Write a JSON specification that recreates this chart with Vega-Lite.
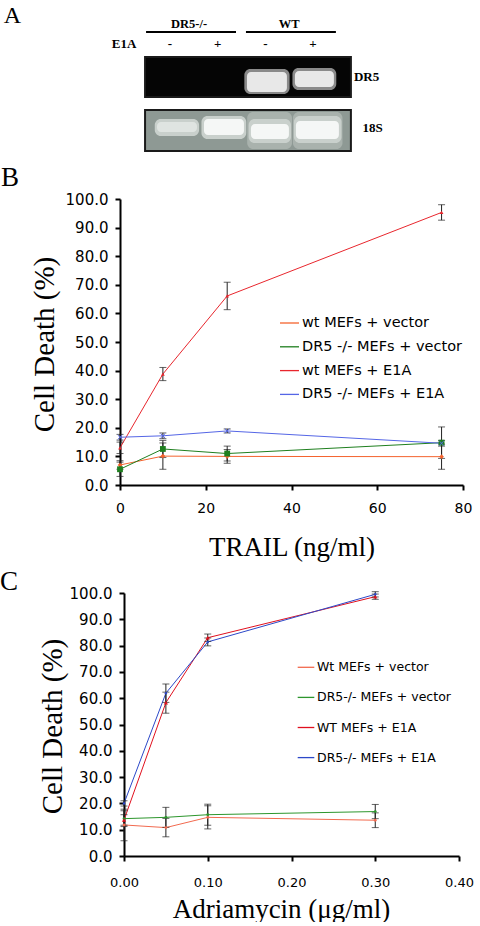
{
  "$schema": "https://vega.github.io/schema/vega-lite/v6.json",
  "autosize": {"type": "pad"},
  "padding": {"left": 0, "top": 0, "right": 0, "bottom": 0},
  "background": "white",
  "config": {
    "view": {"stroke": null},
    "axis": {"domainColor": "black", "domainWidth": 2, "tickColor": "black", "tickWidth": 2, "tickSize": 5, "labelFont": "DejaVu Sans", "labelColor": "black", "labelFlush": false, "labelOverlap": false, "titleFont": "Liberation Serif", "titleFontWeight": "normal", "titleColor": "black", "grid": false},
    "legend": {"padding": 0}
  },
  "bounds": "flush",
  "center": true,
  "spacing": 108,
  "resolve": {
    "scale": {"color": "independent", "fill": "independent", "x": "independent", "y": "independent"},
    "legend": {"color": "independent", "fill": "independent"}
  },
  "vconcat": [
    {
      "width": 343,
      "height": 91,
      "layer": [
        {
          "data": {"values": [
            {"part": "DR5 blot", "x0": 0.476, "x1": 4.797, "y0": 57, "y1": 97},
            {"part": "18S blot", "x0": 0.476, "x1": 4.797, "y0": 110, "y1": 151}
          ]},
          "mark": {"type": "rect", "stroke": "#1a1a1a", "strokeWidth": 2},
          "encoding": {
            "x": {"field": "x0", "type": "quantitative", "scale": {"domain": [-0.05, 7.15], "nice": false, "zero": false}, "axis": null},
            "x2": {"field": "x1"},
            "y": {"field": "y0", "type": "quantitative", "scale": {"domain": [0, 91], "reverse": true, "nice": false, "zero": false}, "axis": null},
            "y2": {"field": "y1"},
            "fill": {"field": "part", "type": "nominal", "scale": {"domain": ["DR5 blot", "18S blot", "DR5 halo", "DR5 band", "18S haze", "18S halo", "18S band", "18S faint band"], "range": ["#050505", "#8e9994", "#8a8a8a", "#e8e8e8", "#a9b2ad", "#c9d0cc", "#f5f7f6", "#dfe4e1"]}, "legend": null}
          }
        },
        {
          "data": {"values": [
            {"part": "18S haze", "x0": 2.62, "x1": 3.56, "y0": 112, "y1": 149},
            {"part": "18S haze", "x0": 3.58, "x1": 4.62, "y0": 112, "y1": 149},
            {"part": "DR5 halo", "x0": 2.56, "x1": 3.51, "y0": 69, "y1": 94},
            {"part": "DR5 halo", "x0": 3.57, "x1": 4.49, "y0": 68, "y1": 90},
            {"part": "18S halo", "x0": 0.68, "x1": 1.61, "y0": 119, "y1": 136},
            {"part": "18S halo", "x0": 1.66, "x1": 2.6, "y0": 116, "y1": 139},
            {"part": "18S halo", "x0": 2.65, "x1": 3.54, "y0": 119, "y1": 143},
            {"part": "18S halo", "x0": 3.6, "x1": 4.6, "y0": 116, "y1": 143}
          ]},
          "mark": {"type": "rect", "cornerRadius": 6},
          "encoding": {
            "x": {"field": "x0", "type": "quantitative"},
            "x2": {"field": "x1"},
            "y": {"field": "y0", "type": "quantitative"},
            "y2": {"field": "y1"},
            "fill": {"field": "part", "type": "nominal", "legend": null}
          }
        },
        {
          "data": {"values": [
            {"part": "DR5 band", "x0": 2.615, "x1": 3.454, "y0": 72, "y1": 92},
            {"part": "DR5 band", "x0": 3.622, "x1": 4.44, "y0": 71, "y1": 87},
            {"part": "18S faint band", "x0": 0.727, "x1": 1.566, "y0": 122, "y1": 132},
            {"part": "18S band", "x0": 1.713, "x1": 2.552, "y0": 119, "y1": 135},
            {"part": "18S band", "x0": 2.699, "x1": 3.496, "y0": 124, "y1": 139},
            {"part": "18S band", "x0": 3.643, "x1": 4.545, "y0": 121, "y1": 139}
          ]},
          "mark": {"type": "rect", "cornerRadius": 4},
          "encoding": {
            "x": {"field": "x0", "type": "quantitative"},
            "x2": {"field": "x1"},
            "y": {"field": "y0", "type": "quantitative"},
            "y2": {"field": "y1"},
            "fill": {"field": "part", "type": "nominal", "legend": null}
          }
        },
        {
          "data": {"values": [
            {"group": "DR5-/-", "x0": 0.497, "x1": 2.385, "y": 32},
            {"group": "WT", "x0": 2.594, "x1": 4.482, "y": 32}
          ]},
          "mark": {"type": "rule", "strokeWidth": 2, "color": "black"},
          "encoding": {
            "x": {"field": "x0", "type": "quantitative"},
            "x2": {"field": "x1"},
            "y": {"field": "y", "type": "quantitative"}
          }
        },
        {
          "data": {"values": [
            {"label": "DR5-/-", "lane": 1.4, "y": 24},
            {"label": "WT", "lane": 3.5, "y": 24}
          ]},
          "mark": {"type": "text", "font": "Liberation Serif", "fontWeight": "bold", "fontSize": 12.5, "baseline": "middle", "color": "black"},
          "encoding": {
            "x": {"field": "lane", "type": "quantitative"},
            "y": {"field": "y", "type": "quantitative"},
            "text": {"field": "label"}
          }
        },
        {
          "data": {"values": [
            {"label": "E1A", "lane": 0.035, "y": 44},
            {"label": "-", "lane": 1, "y": 44},
            {"label": "+", "lane": 2, "y": 44},
            {"label": "-", "lane": 3, "y": 44},
            {"label": "+", "lane": 4, "y": 44}
          ]},
          "mark": {"type": "text", "font": "Liberation Serif", "fontWeight": "bold", "fontSize": 13, "baseline": "middle", "color": "black"},
          "encoding": {
            "x": {"field": "lane", "type": "quantitative"},
            "y": {"field": "y", "type": "quantitative"},
            "text": {"field": "label"}
          }
        },
        {
          "data": {"values": [
            {"label": "DR5", "lane": 4.86, "y": 77},
            {"label": "18S", "lane": 5.04, "y": 128}
          ]},
          "mark": {"type": "text", "font": "Liberation Serif", "fontWeight": "bold", "fontSize": 13, "baseline": "middle", "align": "left", "color": "black"},
          "encoding": {
            "x": {"field": "lane", "type": "quantitative"},
            "y": {"field": "y", "type": "quantitative"},
            "text": {"field": "label"}
          }
        },
        {
          "data": {"values": [
            {"label": "A", "lane": -2.31, "y": 16}
          ]},
          "mark": {"type": "text", "font": "Liberation Serif", "fontSize": 24, "baseline": "middle", "color": "black"},
          "encoding": {
            "x": {"field": "lane", "type": "quantitative"},
            "y": {"field": "y", "type": "quantitative"},
            "text": {"field": "label"}
          }
        }
      ]
    },
    {
      "width": 343,
      "height": 286,
      "title": {"text": "B", "anchor": "start", "frame": "group", "dx": -119, "offset": 0, "font": "Liberation Serif", "fontSize": 27, "fontWeight": "normal", "color": "black"},
      "data": {"values": [
        {"series": "wt MEFs + vector", "trail": 0, "death": 7.0, "err": 1.5},
        {"series": "wt MEFs + vector", "trail": 10, "death": 10.1, "err": 4.6},
        {"series": "wt MEFs + vector", "trail": 25, "death": 10.0, "err": 2.4},
        {"series": "wt MEFs + vector", "trail": 75, "death": 9.9, "err": 4.4},
        {"series": "DR5 -/- MEFs + vector", "trail": 0, "death": 5.5, "err": 2.5},
        {"series": "DR5 -/- MEFs + vector", "trail": 10, "death": 12.6, "err": 3.0},
        {"series": "DR5 -/- MEFs + vector", "trail": 25, "death": 11.0, "err": 2.6},
        {"series": "DR5 -/- MEFs + vector", "trail": 75, "death": 14.8, "err": 5.5},
        {"series": "wt MEFs + E1A", "trail": 0, "death": 13.0, "err": 2.0},
        {"series": "wt MEFs + E1A", "trail": 10, "death": 38.8, "err": 2.3},
        {"series": "wt MEFs + E1A", "trail": 25, "death": 66.1, "err": 4.8},
        {"series": "wt MEFs + E1A", "trail": 75, "death": 95.3, "err": 2.7},
        {"series": "DR5 -/- MEFs + E1A", "trail": 0, "death": 16.7, "err": 1.0},
        {"series": "DR5 -/- MEFs + E1A", "trail": 10, "death": 17.2, "err": 1.0},
        {"series": "DR5 -/- MEFs + E1A", "trail": 25, "death": 18.9, "err": 0.7},
        {"series": "DR5 -/- MEFs + E1A", "trail": 75, "death": 14.6, "err": 1.0}
      ]},
      "encoding": {
        "x": {"field": "trail", "type": "quantitative", "scale": {"domain": [0, 80], "nice": false}, "axis": {"values": [0, 20, 40, 60, 80], "format": "d", "labelFontSize": 14, "labelPadding": 11, "title": "TRAIL (ng/ml)", "titleFontSize": 27, "titleY": 70, "titleBaseline": "alphabetic"}},
        "y": {"field": "death", "type": "quantitative", "scale": {"domain": [0, 100], "nice": false}, "axis": {"values": [0, 10, 20, 30, 40, 50, 60, 70, 80, 90, 100], "format": ".1f", "labelFontSize": 15, "labelPadding": 7, "title": "Cell Death (%)", "titleFontSize": 29, "titleAngle": -90, "titleX": -67, "titleY": 145, "titleBaseline": "alphabetic", "titleAlign": "center"}}
      },
      "layer": [
        {
          "mark": {"type": "line", "strokeWidth": 1},
          "encoding": {
            "color": {
              "field": "series", "type": "nominal",
              "scale": {"domain": ["wt MEFs + vector", "DR5 -/- MEFs + vector", "wt MEFs + E1A", "DR5 -/- MEFs + E1A"], "range": ["#f4632e", "#1f7f1f", "#e8262d", "#5566e6"]},
              "legend": {
                "orient": "none", "legendX": 159, "legendY": 113.5, "title": null,
                "labelFont": "DejaVu Sans", "labelFontSize": 14.5, "labelColor": "black", "labelLimit": 300,
                "symbolType": "stroke", "symbolSize": 361, "symbolStrokeWidth": 1.3, "rowPadding": 6.8, "labelOffset": 2
              }
            }
          }
        },
        {
          "mark": {"type": "errorbar", "ticks": {"size": 7}, "color": "#222222", "thickness": 1},
          "encoding": {"yError": {"field": "err"}}
        },
        {
          "transform": [{"filter": "datum.series === 'wt MEFs + vector'"}],
          "mark": {"type": "point", "shape": "diamond", "filled": true, "size": 22, "color": "#f4632e", "opacity": 1}
        },
        {
          "transform": [{"filter": "datum.series === 'DR5 -/- MEFs + vector'"}],
          "mark": {"type": "point", "shape": "square", "filled": true, "size": 34, "color": "#1f7f1f", "opacity": 1}
        },
        {
          "transform": [{"filter": "datum.series === 'wt MEFs + E1A'"}],
          "mark": {"type": "point", "shape": "triangle-up", "filled": true, "size": 14, "color": "#e8262d", "opacity": 1}
        },
        {
          "transform": [{"filter": "datum.series === 'DR5 -/- MEFs + E1A'"}],
          "mark": {"type": "point", "shape": "M-1,-1L1,1M-1,1L1,-1", "filled": false, "size": 20, "color": "#5566e6", "strokeWidth": 1, "opacity": 1}
        }
      ]
    },
    {
      "width": 335,
      "height": 263,
      "title": {"text": "C", "anchor": "start", "frame": "group", "dx": -124, "offset": -10, "font": "Liberation Serif", "fontSize": 27, "fontWeight": "normal", "color": "black"},
      "data": {"values": [
        {"series": "Wt MEFs + vector", "dose": 0, "death": 11.8, "err": 6.0},
        {"series": "Wt MEFs + vector", "dose": 0.05, "death": 10.8, "err": 3.5},
        {"series": "Wt MEFs + vector", "dose": 0.1, "death": 14.7, "err": 4.4},
        {"series": "Wt MEFs + vector", "dose": 0.3, "death": 13.6, "err": 2.8},
        {"series": "DR5-/- MEFs + vector", "dose": 0, "death": 14.2, "err": 3.0},
        {"series": "DR5-/- MEFs + vector", "dose": 0.05, "death": 14.7, "err": 3.8},
        {"series": "DR5-/- MEFs + vector", "dose": 0.1, "death": 15.7, "err": 4.0},
        {"series": "DR5-/- MEFs + vector", "dose": 0.3, "death": 16.9, "err": 2.7},
        {"series": "WT MEFs + E1A", "dose": 0, "death": 13.7, "err": 2.0},
        {"series": "WT MEFs + E1A", "dose": 0.05, "death": 58.3, "err": 4.0},
        {"series": "WT MEFs + E1A", "dose": 0.1, "death": 83.0, "err": 1.4},
        {"series": "WT MEFs + E1A", "dose": 0.3, "death": 98.6, "err": 1.0},
        {"series": "DR5-/- MEFs + E1A", "dose": 0, "death": 20.0, "err": 1.0},
        {"series": "DR5-/- MEFs + E1A", "dose": 0.05, "death": 61.9, "err": 3.5},
        {"series": "DR5-/- MEFs + E1A", "dose": 0.1, "death": 81.4, "err": 1.5},
        {"series": "DR5-/- MEFs + E1A", "dose": 0.3, "death": 99.5, "err": 1.0}
      ]},
      "encoding": {
        "x": {"field": "dose", "type": "quantitative", "scale": {"domain": [0, 0.4], "nice": false}, "axis": {"values": [0, 0.1, 0.2, 0.3, 0.4], "format": ".2f", "labelFontSize": 13, "labelPadding": 15, "title": "Adriamycin (μg/ml)", "titleFontSize": 27, "titleX": 157, "titleY": 61, "titleAlign": "center", "titleBaseline": "alphabetic"}},
        "y": {"field": "death", "type": "quantitative", "scale": {"domain": [0, 100], "nice": false}, "axis": {"values": [0, 10, 20, 30, 40, 50, 60, 70, 80, 90, 100], "format": ".1f", "labelFontSize": 15, "labelPadding": 7, "title": "Cell Death (%)", "titleFontSize": 29, "titleAngle": -90, "titleX": -63, "titleY": 133, "titleBaseline": "alphabetic", "titleAlign": "center"}}
      },
      "layer": [
        {
          "mark": {"type": "line", "strokeWidth": 1},
          "encoding": {
            "color": {
              "field": "series", "type": "nominal",
              "scale": {"domain": ["Wt MEFs + vector", "DR5-/- MEFs + vector", "WT MEFs + E1A", "DR5-/- MEFs + E1A"], "range": ["#f26a4f", "#2d962d", "#e0101e", "#2c48c8"]},
              "legend": {
                "orient": "none", "legendX": 173, "legendY": 65.3, "title": null,
                "labelFont": "DejaVu Sans", "labelFontSize": 12.5, "labelColor": "black", "labelLimit": 300,
                "symbolType": "stroke", "symbolSize": 276, "symbolStrokeWidth": 1.3, "rowPadding": 14.1, "labelOffset": 2
              }
            }
          }
        },
        {
          "mark": {"type": "errorbar", "ticks": {"size": 7}, "color": "#222222", "thickness": 1},
          "encoding": {"yError": {"field": "err"}}
        },
        {
          "transform": [{"filter": "datum.series === 'Wt MEFs + vector'"}],
          "mark": {"type": "point", "shape": "circle", "filled": true, "size": 8, "color": "#f26a4f", "opacity": 1}
        },
        {
          "transform": [{"filter": "datum.series === 'DR5-/- MEFs + vector'"}],
          "mark": {"type": "point", "shape": "circle", "filled": true, "size": 8, "color": "#2d962d", "opacity": 1}
        },
        {
          "transform": [{"filter": "datum.series === 'WT MEFs + E1A'"}],
          "mark": {"type": "point", "shape": "triangle-up", "filled": true, "size": 18, "color": "#e0101e", "opacity": 1}
        },
        {
          "transform": [{"filter": "datum.series === 'DR5-/- MEFs + E1A'"}],
          "mark": {"type": "point", "shape": "circle", "filled": true, "size": 6, "color": "#2c48c8", "opacity": 1}
        }
      ]
    }
  ]
}
